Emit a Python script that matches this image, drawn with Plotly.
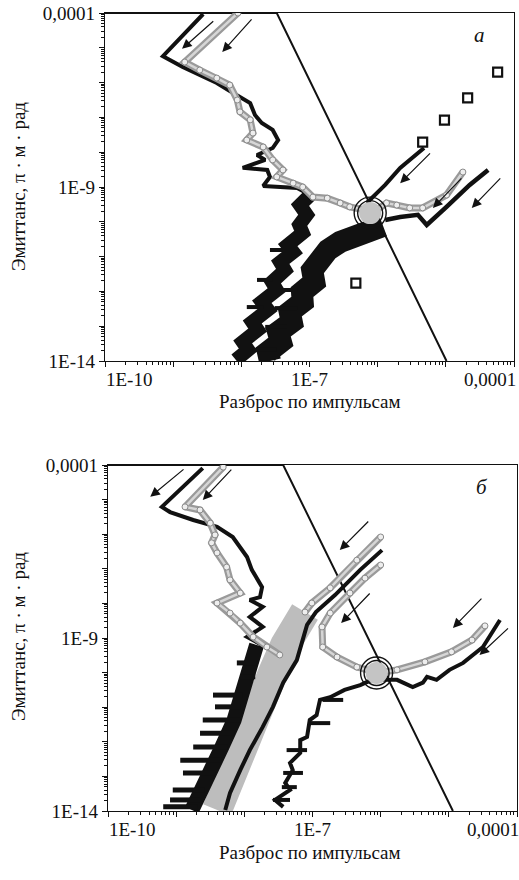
import plotly.graph_objects as go

# ================= DATA (log10 values) =================
# ---------- panel a ----------
a_diag_lx = [-10.0, -7.48, -4.99]
a_diag_ly = [-4.0, -4.0, -14.0]

a_black_left_lx = [-8.56, -9.15, -8.86, -8.36, -8.12, -7.87, -7.80, -7.70, -7.54, -7.46, -7.54, -7.77, -7.65, -7.98, -7.62, -7.58, -7.68, -7.18, -6.99]
a_black_left_ly = [-4.03, -5.24, -5.55, -6.01, -6.30, -6.59, -6.93, -7.16, -7.36, -7.65, -7.88, -8.08, -8.22, -8.45, -8.51, -8.71, -8.97, -9.03, -9.23]

a_gray_left_lx = [-8.05, -8.83, -8.61, -8.36, -8.17, -8.06, -8.02, -7.87, -7.83, -7.92, -7.68, -7.54, -7.39, -7.48, -7.24, -7.10, -6.95, -6.74, -6.55, -6.41, -6.19, -6.01]
a_gray_left_ly = [-4.00, -5.41, -5.64, -5.87, -6.07, -6.50, -6.84, -7.07, -7.45, -7.65, -7.85, -8.22, -8.51, -8.71, -8.89, -9.00, -9.29, -9.32, -9.46, -9.57, -9.66, -9.75]

a_gray_right_lx = [-4.75, -4.99, -5.34, -5.53, -5.72, -5.87, -6.01]
a_gray_right_ly = [-8.57, -9.23, -9.60, -9.60, -9.52, -9.46, -9.66]

a_black_ur_lx = [-5.32, -5.67, -5.89, -6.16]
a_black_ur_ly = [-7.88, -8.45, -8.94, -9.46]

a_black_lr_lx = [-4.38, -4.65, -4.99, -5.28, -5.41, -5.67, -5.89]
a_black_lr_ly = [-8.51, -8.94, -9.57, -10.09, -9.80, -9.86, -9.95]

a_band1_lx = [-6.99, -7.14, -7.04, -7.15, -7.10, -7.32, -7.24, -7.43, -7.36, -7.55, -7.48, -7.70, -7.61, -7.84, -7.76, -7.98, -7.90, -8.08]
a_band1_ly = [-9.23, -9.52, -9.80, -10.09, -10.32, -10.67, -10.87, -11.16, -11.39, -11.73, -11.96, -12.30, -12.53, -12.88, -13.11, -13.45, -13.68, -13.97]

a_band2_lx = [-5.92, -6.26, -6.55, -6.73, -6.82, -6.96, -6.93, -7.11, -7.10, -7.29, -7.26, -7.46, -7.42, -7.61, -7.58]
a_band2_ly = [-10.12, -10.29, -10.58, -10.81, -11.16, -11.39, -11.73, -12.02, -12.30, -12.59, -12.88, -13.17, -13.45, -13.74, -14.0]

a_spike_ly = [-11.96, -12.48, -13.02, -13.68, -10.81, -11.67, -12.45]
a_spike_lx0 = [-7.61, -7.51, -7.65, -7.84, -7.58, -7.77, -7.92]
a_spike_lx1 = [-7.18, -7.18, -7.33, -7.48, -7.33, -7.54, -7.68]

a_square_lx = [-5.34, -5.02, -4.68, -4.24, -6.32]
a_square_ly = [-7.71, -7.08, -6.44, -5.70, -11.76]

a_eq_lx = [-6.11]
a_eq_ly = [-9.75]

a_arrow_tail_lx = [-8.39, -7.83, -5.21, -4.75, -4.18]
a_arrow_tail_ly = [-4.20, -4.14, -7.99, -8.71, -8.71]
a_arrow_head_lx = [-8.87, -8.28, -5.67, -5.19, -4.62]
a_arrow_head_ly = [-5.03, -5.12, -8.89, -9.60, -9.60]

# ---------- panel b ----------
b_diag_lx = [-10.0, -7.43, -4.94]
b_diag_ly = [-4.0, -4.0, -14.0]

b_black_left_lx = [-8.61, -9.21, -9.09, -8.75, -8.40, -8.17, -7.96, -7.89, -7.74, -7.77, -7.92, -7.73, -7.92, -7.73, -7.96, -7.74]
b_black_left_ly = [-4.09, -5.21, -5.36, -5.59, -5.79, -6.08, -6.66, -7.03, -7.53, -7.82, -7.90, -8.10, -8.39, -8.68, -8.97, -9.20]

b_band_k3_lx = [-7.82, -7.92, -8.04, -8.15, -8.33, -8.48, -8.65, -8.77]
b_band_k3_ly = [-9.20, -9.92, -10.65, -11.37, -12.15, -12.82, -13.39, -13.97]

b_k3_spike_ly = [-9.72, -10.12, -10.65, -10.99, -11.37, -11.75, -12.15, -12.53, -12.90, -13.39, -13.68, -13.88]
b_k3_spike_lx0 = [-8.11, -8.06, -8.46, -8.43, -8.61, -8.65, -8.75, -8.94, -8.90, -9.05, -9.09, -9.19]
b_k3_spike_lx1 = [-7.82, -7.84, -8.02, -8.06, -8.06, -8.14, -8.24, -8.33, -8.43, -8.58, -8.65, -8.68]

b_gray_band_lx = [-7.11, -7.30, -7.40, -7.58, -7.77, -7.96, -8.18, -8.40]
b_gray_band_ly = [-8.25, -8.71, -9.20, -10.01, -10.99, -11.95, -12.90, -13.97]

b_gray_b2_lx = [-8.31, -8.87, -8.65, -8.50, -8.43, -8.48, -8.40, -8.26, -8.21, -8.06, -8.40, -8.21, -8.06, -7.87, -7.67, -7.48]
b_gray_b2_ly = [-4.06, -5.21, -5.30, -5.68, -6.02, -6.25, -6.54, -6.95, -7.32, -7.70, -7.99, -8.28, -8.57, -8.97, -9.26, -9.49]

b_gray_g1_lx = [-6.00, -6.35, -6.74, -7.01, -7.11]
b_gray_g1_ly = [-6.08, -6.75, -7.55, -7.99, -8.25]

b_black_k1_lx = [-5.98, -6.30, -6.67, -6.95, -7.08, -7.14, -7.23, -7.43, -7.58, -7.73, -7.92, -8.06, -8.21, -8.28]
b_black_k1_ly = [-6.46, -7.03, -7.76, -8.25, -8.62, -9.06, -9.64, -10.29, -10.99, -11.57, -12.24, -12.82, -13.48, -13.97]

b_gray_g2_lx = [-6.00, -6.23, -6.45, -6.74, -6.86, -6.85, -6.64, -6.35, -6.04, -5.76, -5.35, -4.96, -4.66, -4.47]
b_gray_g2_ly = [-6.89, -7.27, -7.70, -8.28, -8.68, -9.26, -9.55, -9.84, -10.01, -9.92, -9.69, -9.40, -9.06, -8.65]

b_black_k2_lx = [-7.43, -7.55, -7.33, -7.40, -7.29, -7.33, -7.18, -7.18, -7.08, -7.04, -6.94, -6.89, -6.74, -6.53, -6.30, -6.13, -5.76, -5.53, -5.38, -5.32, -5.18, -4.99, -4.79, -4.50, -4.25]
b_black_k2_ly = [-13.88, -13.68, -13.39, -13.19, -12.82, -12.61, -12.32, -11.95, -11.86, -11.37, -11.23, -10.79, -10.71, -10.50, -10.36, -10.21, -10.21, -10.42, -10.29, -10.12, -10.21, -9.92, -9.72, -9.26, -8.48]

b_k2_spike_ly = [-12.24, -10.79, -11.46, -12.90, -13.68, -13.31]
b_k2_spike_lx0 = [-7.38, -6.85, -7.04, -7.43, -7.58, -7.45]
b_k2_spike_lx1 = [-7.08, -6.55, -6.74, -7.14, -7.33, -7.23]

b_eq_lx = [-6.06]
b_eq_ly = [-10.01]

b_arrow_tail_lx = [-8.87, -8.17, -6.16, -6.14, -4.50, -4.11]
b_arrow_tail_ly = [-4.09, -4.09, -5.59, -7.67, -7.82, -8.68]
b_arrow_head_lx = [-9.38, -8.61, -6.60, -6.58, -4.94, -4.55]
b_arrow_head_ly = [-4.92, -5.01, -6.46, -8.57, -8.71, -9.49]

# tick labels
x_tick_exps = [-10, -7, -4]
x_tick_text = ["1E-10", "1E-7", "0,0001"]
y_tick_exps = [-4, -9, -14]
y_tick_text = ["0,0001", "1E-9", "1E-14"]
panel_labels = ["а", "б"]
x_title = "Разброс по импульсам"
y_title = "Эмиттанс, π · м · рад"

# ================= FIGURE =================
FONT = "Liberation Serif, Times New Roman, DejaVu Serif, serif"
BLACK = "#111111"
GRAY_LINE = "#9a9a9a"
GRAY_CORE = "#d6d6d6"


def P(v):
    return [None if t is None else 10 ** t for t in v]


def segs(lx0, lx1, ly):
    xs, ys = [], []
    for a, b, c in zip(lx0, lx1, ly):
        xs += [a, b, None]
        ys += [c, c, None]
    return P(xs), P(ys)


fig = go.Figure()


def line(lx, ly, ax, color=BLACK, width=3.5, **kw):
    fig.add_trace(go.Scatter(x=P(lx), y=P(ly), mode="lines",
                             line=dict(color=color, width=width),
                             xaxis=ax[0], yaxis=ax[1], showlegend=False,
                             hoverinfo="skip", **kw))


def chain(lx, ly, ax, width=7):
    fig.add_trace(go.Scatter(x=P(lx), y=P(ly), mode="lines",
                             line=dict(color=GRAY_LINE, width=width),
                             xaxis=ax[0], yaxis=ax[1], showlegend=False,
                             hoverinfo="skip"))
    fig.add_trace(go.Scatter(x=P(lx), y=P(ly), mode="lines+markers",
                             line=dict(color=GRAY_CORE, width=2.5),
                             marker=dict(symbol="circle", size=6, color="#eeeeee",
                                         line=dict(color="#8a8a8a", width=1)),
                             xaxis=ax[0], yaxis=ax[1], showlegend=False,
                             hoverinfo="skip"))


def spikes(lx0, lx1, ly, ax, width=4):
    sx, sy = segs(lx0, lx1, ly)
    fig.add_trace(go.Scatter(x=sx, y=sy, mode="lines",
                             line=dict(color=BLACK, width=width),
                             xaxis=ax[0], yaxis=ax[1], showlegend=False,
                             hoverinfo="skip"))


def eq(lx, ly, ax):
    fig.add_trace(go.Scatter(x=P(lx), y=P(ly), mode="markers",
                             marker=dict(symbol="circle", size=22, color="#c4c4c4"),
                             xaxis=ax[0], yaxis=ax[1], showlegend=False, hoverinfo="skip"))
    for s in (32, 25):
        fig.add_trace(go.Scatter(x=P(lx), y=P(ly), mode="markers",
                                 marker=dict(symbol="circle-open", size=s, color=BLACK,
                                             line=dict(width=1.4)),
                                 xaxis=ax[0], yaxis=ax[1], showlegend=False,
                                 hoverinfo="skip"))


A = ("x", "y")
B = ("x2", "y2")

# ---- panel a ----
line(a_band1_lx, a_band1_ly, A, width=14)
line(a_band2_lx, a_band2_ly, A, width=22)
spikes(a_spike_lx0, a_spike_lx1, a_spike_ly, A)
line(a_diag_lx, a_diag_ly, A, width=2)
line(a_black_left_lx, a_black_left_ly, A, width=4)
line(a_black_ur_lx, a_black_ur_ly, A, width=4)
line(a_black_lr_lx, a_black_lr_ly, A, width=4.5)
chain(a_gray_left_lx, a_gray_left_ly, A)
chain(a_gray_right_lx, a_gray_right_ly, A)
fig.add_trace(go.Scatter(x=P(a_square_lx), y=P(a_square_ly), mode="markers",
                         marker=dict(symbol="square-open", size=9, color=BLACK,
                                     line=dict(width=2.2)),
                         xaxis="x", yaxis="y", showlegend=False, hoverinfo="skip"))
eq(a_eq_lx, a_eq_ly, A)

# ---- panel b ----
line(b_gray_band_lx, b_gray_band_ly, B, color="#bdbdbd", width=30)
line(b_band_k3_lx, b_band_k3_ly, B, width=15)
spikes(b_k3_spike_lx0, b_k3_spike_lx1, b_k3_spike_ly, B, width=5)
line(b_diag_lx, b_diag_ly, B, width=2)
line(b_black_left_lx, b_black_left_ly, B, width=4)
line(b_black_k1_lx, b_black_k1_ly, B, width=4)
line(b_black_k2_lx, b_black_k2_ly, B, width=4)
spikes(b_k2_spike_lx0, b_k2_spike_lx1, b_k2_spike_ly, B, width=4)
chain(b_gray_b2_lx, b_gray_b2_ly, B)
chain(b_gray_g1_lx, b_gray_g1_ly, B)
chain(b_gray_g2_lx, b_gray_g2_ly, B)
eq(b_eq_lx, b_eq_ly, B)

# ---- axes ----
minor_x = [m * 10.0 ** e for e in range(-10, -4) for m in range(2, 10)]
minor_y = [m * 10.0 ** e for e in range(-14, -4) for m in range(2, 10)]

xax = dict(type="log", range=[-10, -4], showline=True, linecolor=BLACK, linewidth=1.2,
           mirror=True, ticks="outside", ticklen=5, tickcolor=BLACK,
           tickvals=[10.0 ** e for e in range(-10, -3)], showticklabels=False,
           minor=dict(tickmode="array", tickvals=minor_x, ticks="outside", ticklen=3,
                      tickcolor=BLACK),
           showgrid=False, zeroline=False)
yax = dict(type="log", range=[-14, -4], showline=True, linecolor=BLACK, linewidth=1.2,
           mirror=True, ticks="outside", ticklen=5, tickcolor=BLACK,
           tickvals=[10.0 ** e for e in range(-14, -3)],
           ticktext=[y_tick_text[y_tick_exps.index(e)] if e in y_tick_exps else ""
                     for e in range(-14, -3)],
           tickfont=dict(family=FONT, size=19, color=BLACK),
           minor=dict(tickmode="array", tickvals=minor_y, ticks="outside", ticklen=3,
                      tickcolor=BLACK),
           showgrid=False, zeroline=False)

fig.update_layout(
    width=519, height=880,
    margin=dict(l=105, r=2, t=13, b=69),
    paper_bgcolor="white", plot_bgcolor="white",
    font=dict(family=FONT, size=19, color=BLACK),
    xaxis=dict(xax, domain=[0, 409 / 412], anchor="y"),
    yaxis=dict(yax, domain=[450 / 798, 1], anchor="x"),
    xaxis2=dict(xax, domain=[3 / 412, 1], anchor="y2"),
    yaxis2=dict(yax, domain=[0, 346 / 798], anchor="x2"),
)

ann = []
for xa, ya, yd in (("x", "y", "y domain"), ("x2", "y2", "y2 domain")):
    for e, t, sh in zip(x_tick_exps, x_tick_text, (24, 0, -24)):
        ann.append(dict(x=e, y=0, xref=xa, yref=yd, text=t, showarrow=False,
                        xanchor="center", yanchor="top", yshift=-6, xshift=sh,
                        font=dict(family=FONT, size=19, color=BLACK)))

# axis titles
for yc_x, yc_y in ((409 / 798, 624 / 798), (-41 / 798, 174 / 798)):
    ann.append(dict(x=205 / 412, y=yc_x, xref="paper", yref="paper", text=x_title,
                    showarrow=False, xanchor="center", yanchor="middle",
                    font=dict(family=FONT, size=19, color=BLACK)))
    ann.append(dict(x=-87 / 412, y=yc_y, xref="paper", yref="paper", text=y_title,
                    showarrow=False, xanchor="center", yanchor="middle", textangle=-90,
                    font=dict(family=FONT, size=19, color=BLACK)))

# panel letters
ann.append(dict(x=0.915, y=1 - 22 / 348, xref="x domain", yref="y domain",
                text="<i>" + panel_labels[0] + "</i>", showarrow=False,
                xanchor="center", yanchor="middle",
                font=dict(family=FONT, size=21, color=BLACK)))
ann.append(dict(x=0.915, y=1 - 22 / 346, xref="x2 domain", yref="y2 domain",
                text="<i>" + panel_labels[1] + "</i>", showarrow=False,
                xanchor="center", yanchor="middle",
                font=dict(family=FONT, size=21, color=BLACK)))

# arrows
for xa, ya, tl, tly, hl, hly in (("x", "y", a_arrow_tail_lx, a_arrow_tail_ly, a_arrow_head_lx, a_arrow_head_ly),
                                  ("x2", "y2", b_arrow_tail_lx, b_arrow_tail_ly, b_arrow_head_lx, b_arrow_head_ly)):
    for tx, ty, hx, hy in zip(tl, tly, hl, hly):
        ann.append(dict(x=hx, y=hy, ax=tx, ay=ty, xref=xa, yref=ya, axref=xa, ayref=ya,
                        text="", showarrow=True, arrowhead=2, arrowsize=1.6,
                        arrowwidth=1.2, arrowcolor=BLACK))

fig.update_layout(annotations=ann)
fig.write_html("out.html", config={"displayModeBar": False, "staticPlot": True},
               post_script="document.body.style.margin='0px';document.body.style.overflow='hidden';")
